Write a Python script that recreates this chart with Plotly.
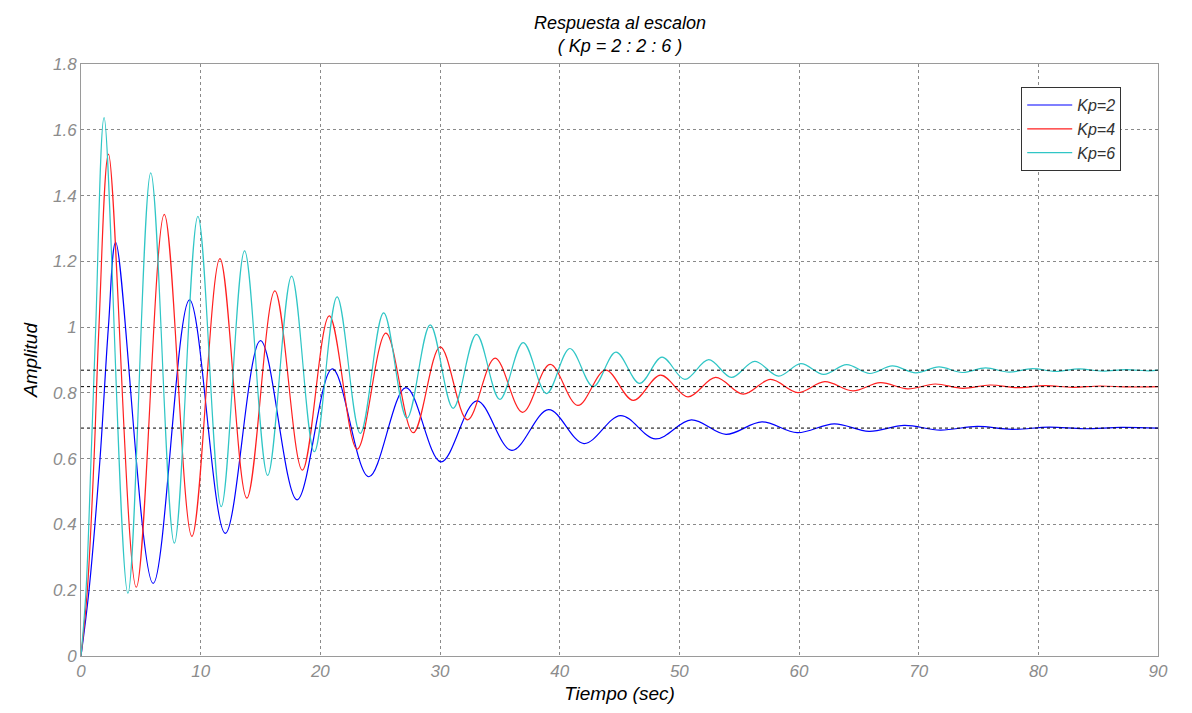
import plotly.graph_objects as go

# ---- data (extrema + early rise points) ----
t_kp2 = [0, 0.67, 1.59, 2.29, 2.9, 6.03, 9.07, 12.06, 15.0, 18.06, 21.0, 24.05, 27.15, 30.08,
         33.08, 36.0, 39.07, 42.03, 45.09, 48.0, 51.0, 53.9, 56.9, 59.85, 62.95, 65.85, 68.8,
         71.8, 74.9, 77.8, 80.9, 83.8, 86.9, 90]
y_kp2 = [0, 0.2, 0.6, 1.0, 1.258, 0.221, 1.083, 0.373, 0.959, 0.475, 0.873, 0.545, 0.816, 0.59,
         0.776, 0.625, 0.749, 0.646, 0.731, 0.66, 0.718, 0.674, 0.712, 0.679, 0.706, 0.683, 0.701,
         0.687, 0.698, 0.689, 0.696, 0.691, 0.695, 0.693]

t_kp4 = [0, 0.53, 1.09, 1.5, 2.3, 4.62, 6.96, 9.27, 11.61, 13.86, 16.2, 18.5, 20.75, 23.08,
         25.48, 27.77, 30.02, 32.3, 34.6, 36.9, 39.2, 41.52, 43.84, 46.15, 48.43, 50.72, 53.03,
         55.34, 57.62, 59.9, 62.15, 64.5, 66.8, 69.08, 71.38, 73.68, 75.98, 78.28, 80.58, 82.88,
         85.18, 87.48, 90]
y_kp4 = [0, 0.2, 0.6, 1.0, 1.526, 0.209, 1.343, 0.364, 1.208, 0.48, 1.11, 0.565, 1.034, 0.629,
         0.982, 0.679, 0.94, 0.718, 0.906, 0.741, 0.887, 0.762, 0.869, 0.777, 0.854, 0.788, 0.847,
         0.796, 0.841, 0.801, 0.834, 0.806, 0.831, 0.812, 0.827, 0.814, 0.824, 0.816, 0.822, 0.817,
         0.821, 0.818, 0.819]

t_kp6 = [0, 0.42, 0.84, 1.23, 1.93, 3.92, 5.83, 7.8, 9.77, 11.72, 13.67, 15.6, 17.6, 19.5, 21.4,
         23.34, 25.29, 27.24, 29.18, 31.1, 33.05, 35.0, 36.95, 38.9, 40.85, 42.8, 44.7, 46.68,
         48.55, 50.46, 52.45, 54.35, 56.3, 58.3, 60.15, 62.07, 63.98, 65.91, 67.8, 69.75, 71.7,
         73.65, 75.6, 77.55, 79.5, 81.45, 83.4, 85.35, 87.3, 89.25, 90]
y_kp6 = [0, 0.2, 0.6, 1.0, 1.637, 0.191, 1.469, 0.343, 1.337, 0.454, 1.232, 0.549, 1.155, 0.621,
         1.092, 0.677, 1.043, 0.723, 1.007, 0.753, 0.978, 0.78, 0.953, 0.798, 0.935, 0.819, 0.924,
         0.829, 0.909, 0.841, 0.901, 0.847, 0.896, 0.851, 0.889, 0.856, 0.886, 0.859, 0.882, 0.861,
         0.879, 0.862, 0.876, 0.863, 0.874, 0.865, 0.873, 0.866, 0.871, 0.867, 0.869]

series_names = ["Kp=2", "Kp=4", "Kp=6"]
steady_values = [0.693, 0.819, 0.869]
x_range = [0, 90]
x_ticks = [0, 10, 20, 30, 40, 50, 60, 70, 80, 90]
y_ticks = [0, 0.2, 0.4, 0.6, 0.8, 1.0, 1.2, 1.4, 1.6, 1.8]
title_text = "Respuesta al escalon<br>( Kp = 2 : 2 : 6 )"

colors = ["#0000ff", "#ff2020", "#30c6c6"]
FONT = "Liberation Sans, Arial, sans-serif"

fig = go.Figure()
for name, t, y, c in zip(series_names, [t_kp2, t_kp4, t_kp6], [y_kp2, y_kp4, y_kp6], colors):
    fig.add_trace(go.Scatter(x=t, y=y, mode="lines", name=name,
                             line=dict(color=c, width=1.2, shape="spline", smoothing=1.0)))

for v in steady_values:
    fig.add_trace(go.Scatter(x=x_range, y=[v, v], mode="lines", showlegend=False,
                             hoverinfo="skip",
                             line=dict(color="#000000", width=1, dash="3px,3px")))

axis_common = dict(showline=True, mirror=True, linecolor="#9a9a9a", linewidth=1,
                   showgrid=True, gridcolor="#8a8a8a", griddash="3px,3px", gridwidth=1,
                   zeroline=False, ticks="",
                   tickfont=dict(family=FONT, size=17, color="#8c8c8c", style="italic"))

fig.update_xaxes(range=x_range, tickvals=x_ticks, **axis_common,
                 title=dict(text="Tiempo (sec)", standoff=6,
                            font=dict(family=FONT, size=19, color="#000", style="italic")))
fig.update_yaxes(range=[0, 1.8], tickvals=y_ticks, **axis_common,
                 title=dict(text="Amplitud", standoff=10,
                            font=dict(family=FONT, size=19, color="#000", style="italic")))

# page body adds an 8px offset, so the figure is 8px smaller and margins shifted
fig.update_layout(
    width=1184, height=705,
    margin=dict(l=73, r=34, t=56, b=54),
    paper_bgcolor="white", plot_bgcolor="white",
    legend=dict(x=0.873, y=0.961, xanchor="left", yanchor="top",
                bgcolor="white", bordercolor="#333", borderwidth=1,
                font=dict(family=FONT, size=16, color="#333", style="italic"),
                tracegroupgap=0, itemwidth=45),
    showlegend=True,
)

fig.add_annotation(text=title_text, xref="paper", yref="paper", x=0.5, y=1 + (64 - 34) / 595,
                   xanchor="center", yanchor="middle", showarrow=False,
                   font=dict(family=FONT, size=18, color="#000", style="italic"))

# light shadow strip at the right edge of the picture frame
fig.add_shape(type="rect", xref="paper", yref="paper",
              x0=(1186 - 81) / 1077, x1=(1192 - 81) / 1077, y0=-0.12, y1=1.15,
              fillcolor="#a8a8a8", line=dict(width=0), layer="above")

fig.write_html("out.html")
